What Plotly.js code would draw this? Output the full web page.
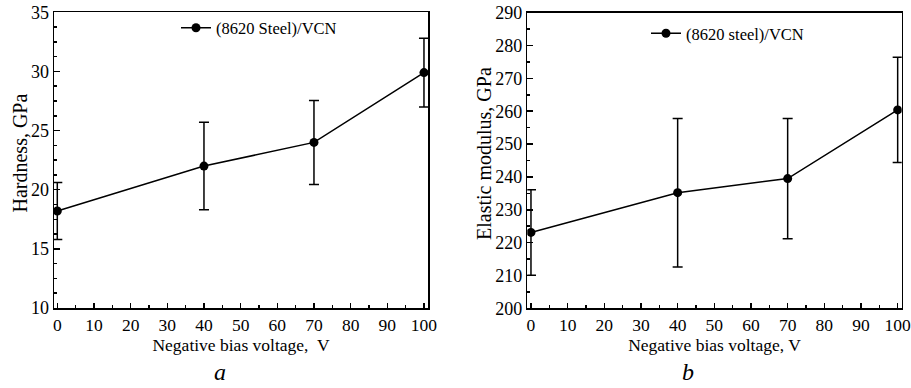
<!DOCTYPE html>
<html>
<head>
<meta charset="utf-8">
<script src="https://cdn.plot.ly/plotly-3.0.1.min.js"></script>
<style>html,body{margin:0;padding:0;background:#fff;}#chart{width:911px;height:388px;}</style>
</head>
<body>
<div id="chart"></div>
<script>
// Data
const voltage = [0, 40, 70, 100];
const hardness = [18.2, 22.0, 24.0, 29.9];
const hardnessErr = [2.4, 3.7, 3.55, 2.9];
const modulus = [223.1, 235.2, 239.5, 260.4];
const modulusErr = [13.0, 22.6, 18.3, 16.0];
const xTicks = [0, 10, 20, 30, 40, 50, 60, 70, 80, 90, 100];
const hardnessTicks = [10, 15, 20, 25, 30, 35];
const modulusTicks = [200, 210, 220, 230, 240, 250, 260, 270, 280, 290];

const FONT = 'Liberation Serif';
const W = 911, H = 388;
const px = v => v / W;
const py = v => 1 - v / H;

const traceStyle = {
  mode: 'lines+markers',
  line: {color: '#000', width: 1.5},
  marker: {color: '#000', size: 9, symbol: 'circle'},
  type: 'scatter',
  showlegend: true
};

const traces = [
  Object.assign({}, traceStyle, {
    x: voltage, y: hardness, name: '(8620 Steel)/VCN',
    error_y: {type: 'data', array: hardnessErr, visible: true, color: '#000', thickness: 1.5, width: 5},
    xaxis: 'x', yaxis: 'y', legend: 'legend'
  }),
  Object.assign({}, traceStyle, {
    x: voltage, y: modulus, name: '(8620 steel)/VCN',
    error_y: {type: 'data', array: modulusErr, visible: true, color: '#000', thickness: 1.5, width: 5},
    xaxis: 'x2', yaxis: 'y2', legend: 'legend2'
  })
];

function xaxisDef(domain, anchor) {
  return {
    domain: domain, anchor: anchor, range: [-0.9, 101.1],
    tickvals: xTicks, ticktext: xTicks.map(String),
    ticks: 'inside', ticklen: 5, tickwidth: 1.5, tickcolor: '#000',
    minor: {dtick: 5, tick0: 0, ticks: 'inside', ticklen: 3, tickwidth: 1.5, tickcolor: '#000'},
    showline: true, linecolor: '#000', linewidth: 1.5, mirror: true,
    showgrid: false, zeroline: false,
    ticklabeloverflow: 'allow',
    tickfont: {family: FONT, size: 17.5, color: '#000'},
    title: {text: 'Negative bias voltage,\u00a0 V', font: {family: FONT, size: 17.5, color: '#000'}, standoff: 1}
  };
}

function yaxisDef(domain, anchor, range, ticks, minorStep) {
  return {
    domain: domain, anchor: anchor, range: range,
    tickvals: ticks, ticktext: ticks.map(String),
    ticks: 'inside', ticklen: 6, tickwidth: 1.5, tickcolor: '#000',
    minor: {dtick: minorStep, tick0: range[0], ticks: 'inside', ticklen: 3, tickwidth: 1.5, tickcolor: '#000'},
    showline: true, linecolor: '#000', linewidth: 1.5, mirror: true,
    showgrid: false, zeroline: false,
    ticklabeloverflow: 'allow',
    tickfont: {family: FONT, size: 18, color: '#000'}
  };
}

const layout = {
  width: W, height: H,
  margin: {l: 0, r: 0, t: 0, b: 0},
  paper_bgcolor: '#fff', plot_bgcolor: '#fff',
  showlegend: true,
  font: {family: FONT, color: '#000'},
  xaxis: xaxisDef([px(54), px(428)], 'y'),
  xaxis2: Object.assign(xaxisDef([px(527.3), px(901.7)], 'y2'), {
    range: [-1.0, 101.1],
    title: {text: 'Negative bias voltage, V', font: {family: FONT, size: 17.5, color: '#000'}, standoff: 1}
  }),
  yaxis: yaxisDef([py(308), py(12.3)], 'x', [10, 35], hardnessTicks, 1.25),
  yaxis2: yaxisDef([py(308.3), py(12.7)], 'x2', [200, 290], modulusTicks, 5),
  legend: {
    x: px(176), y: py(10.5), xanchor: 'left', yanchor: 'top',
    bgcolor: 'rgba(0,0,0,0)', borderwidth: 0,
    font: {family: FONT, size: 16.5, color: '#000'}, itemwidth: 30
  },
  legend2: {
    x: px(646), y: py(16), xanchor: 'left', yanchor: 'top',
    bgcolor: 'rgba(0,0,0,0)', borderwidth: 0,
    font: {family: FONT, size: 16.5, color: '#000'}, itemwidth: 30
  },
  annotations: [
    {text: 'Hardness, GPa', xref: 'paper', yref: 'paper', x: px(20), y: py(153.5), xanchor: 'center', yanchor: 'middle',
     textangle: -90, showarrow: false, font: {family: FONT, size: 20, color: '#000'}},
    {text: 'Elastic modulus, GPa', xref: 'paper', yref: 'paper', x: px(484), y: py(154), xanchor: 'center', yanchor: 'middle',
     textangle: -90, showarrow: false, font: {family: FONT, size: 20, color: '#000'}},
    {text: 'a', xref: 'paper', yref: 'paper', x: px(220), y: py(372), xanchor: 'center', yanchor: 'middle',
     showarrow: false, font: {family: FONT, size: 24, color: '#000', style: 'italic'}},
    {text: 'b', xref: 'paper', yref: 'paper', x: px(688), y: py(372), xanchor: 'center', yanchor: 'middle',
     showarrow: false, font: {family: FONT, size: 24, color: '#000', style: 'italic'}}
  ]
};

Plotly.newPlot('chart', traces, layout, {displayModeBar: false, staticPlot: true});
</script>
</body>
</html>
